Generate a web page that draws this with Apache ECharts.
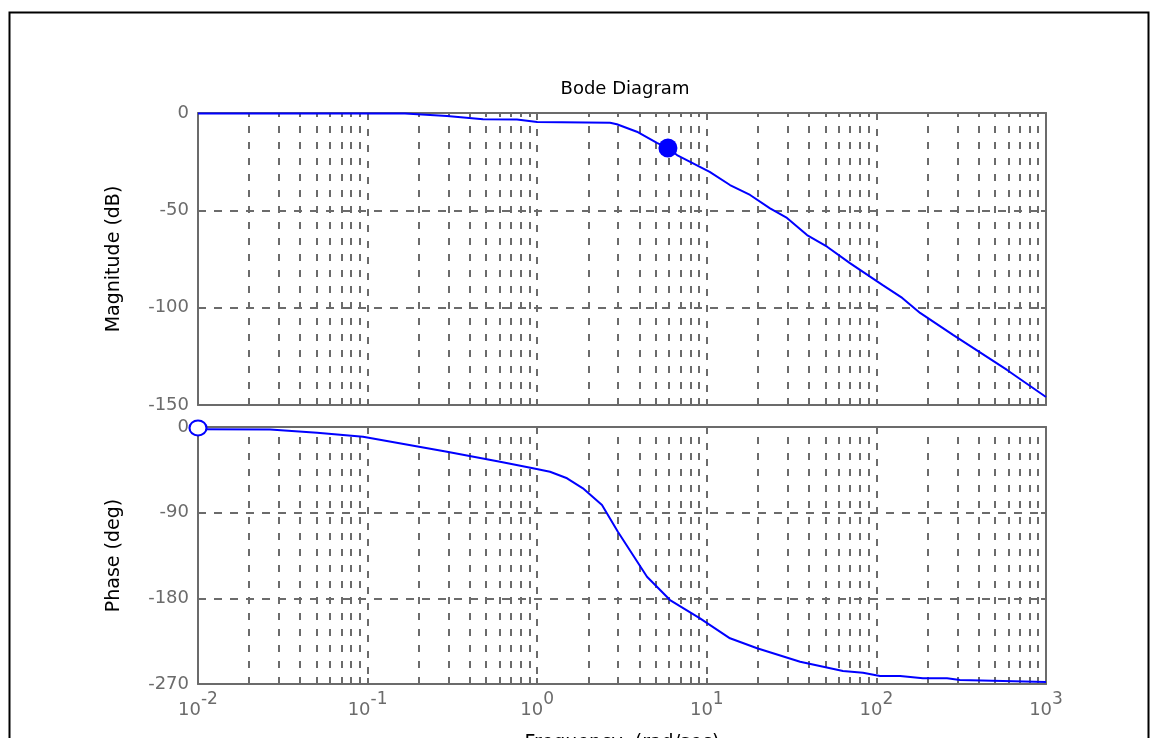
<!DOCTYPE html>
<html>
<head>
<meta charset="utf-8">
<script src="https://cdn.jsdelivr.net/npm/echarts@6/dist/echarts.min.js"></script>
<style>html,body{margin:0;padding:0;background:#fff;}#c{width:1153px;height:738px;}</style>
</head>
<body>
<div id="c"></div>
<script>
// ---- data ----
const magFreq = [0.01, 0.166, 0.294, 0.479, 0.76, 1.0, 2.69, 2.95, 3.87, 5.08, 5.9, 6.67, 10.4, 13.7, 18.0, 23.6, 29.7, 39.0, 51.2, 69.8, 109, 142, 181, 283, 589, 1000];
const magDb   = [-0.2, -0.2, -1.5, -3.2, -3.3, -4.6, -5.0, -5.8, -9.6, -15.3, -18.0, -21.6, -30.2, -37.0, -42.1, -49.0, -53.9, -62.7, -68.7, -77.1, -88.4, -95.0, -102.7, -114.0, -132.0, -145.9];
const phaseFreq = [0.01, 0.0266, 0.0504, 0.094, 0.294, 0.604, 0.944, 1.19, 1.50, 1.86, 2.41, 2.99, 4.44, 6.07, 9.12, 13.7, 19.8, 35.5, 63.5, 83.4, 105, 138, 188, 261, 311, 1000];
const phaseDeg  = [-2.4, -2.6, -6.0, -10.2, -26.0, -36.5, -43.4, -47.0, -53.9, -64.4, -81.9, -110.0, -157.3, -181.8, -201.0, -222.0, -232.5, -246.6, -256.3, -258.1, -261.6, -261.6, -264.0, -264.0, -265.8, -267.8];
const magMarker = [5.9, -18.0];
const phaseMarker = [0.01, -1.0];
const decadeExps = [-2, -1, 0, 1, 2, 3];
const minorMultipliers = [2, 3, 4, 5, 6, 7, 8, 9];
const magTicks = [0, -50, -100, -150];
const phaseTicks = [0, -90, -180, -270];
const titleText = 'Bode Diagram';
const magName = 'Magnitude (dB)';
const phaseName = 'Phase (deg)';
const freqName = 'Frequency  (rad/sec)';

// ---- build ----
const FONT = 'DejaVu Sans, sans-serif';
const GRAY = '#6b6b6b';
const BLUE = '#0000ff';
const xMin = Math.pow(10, decadeExps[0]);
const xMax = Math.pow(10, decadeExps[decadeExps.length - 1]);
const minorLines = [];
decadeExps.slice(0, -1).forEach(e => {
  minorMultipliers.forEach(m => minorLines.push({ xAxis: m * Math.pow(10, e) }));
});
const zip = (a, b) => a.map((v, i) => [v, b[i]]);

function xAxisDef(gridIndex, position, showLabel) {
  return {
    type: 'log', logBase: 10, min: xMin, max: xMax, gridIndex, position,
    axisLine: { show: true, onZero: false, lineStyle: { color: GRAY, width: 2 } },
    axisTick: { show: true, inside: true, length: 6, lineStyle: { color: GRAY, width: 2 } },
    splitLine: { show: position === 'bottom', lineStyle: { color: GRAY, width: 2, type: [7, 9] } },
    axisLabel: {
      show: showLabel, margin: 12, color: GRAY, fontFamily: FONT,
      formatter: v => '{b|10}{s|' + Math.round(Math.log10(v)) + '}',
      rich: {
        b: { fontSize: 18, fontFamily: FONT, color: GRAY, lineHeight: 18, padding: [10, 0, 0, 0] },
        s: { fontSize: 17, fontFamily: FONT, color: GRAY, lineHeight: 18, padding: [0, 0, 10, 0] }
      }
    },
    name: (gridIndex === 1 && position === 'bottom') ? freqName : '',
    nameLocation: 'middle', nameGap: 50,
    nameTextStyle: { color: '#000', fontSize: 19, fontFamily: FONT }
  };
}
function yAxisDef(gridIndex, position, ticks, name) {
  const mn = Math.min(...ticks), mx = Math.max(...ticks);
  return {
    type: 'value', gridIndex, position, min: mn, max: mx, interval: Math.abs(ticks[1] - ticks[0]),
    axisLine: { show: true, onZero: false, lineStyle: { color: GRAY, width: 2 } },
    axisTick: { show: true, inside: true, length: 5, lineStyle: { color: GRAY, width: 2 } },
    splitLine: { show: position === 'left', lineStyle: { color: GRAY, width: 2, type: [8, 8] } },
    axisLabel: { show: position === 'left', margin: 9, color: GRAY, fontSize: 18, fontFamily: FONT },
    name: position === 'left' ? name : '',
    nameLocation: 'middle', nameGap: 74, nameRotate: 90,
    nameTextStyle: { color: '#000', fontSize: 19, fontFamily: FONT }
  };
}
const markLineStyle = {
  symbol: 'none', silent: true, label: { show: false },
  lineStyle: { color: GRAY, width: 2, type: [7, 9] },
  emphasis: { disabled: true },
  data: minorLines
};

const option = {
  animation: false,
  backgroundColor: '#fff',
  title: {
    text: titleText, left: 620, top: 75, textAlign: 'center',
    textStyle: { color: '#000', fontSize: 18, fontWeight: 'normal', fontFamily: FONT }
  },
  grid: [
    { left: 198, top: 113, width: 848, height: 292, containLabel: false, outerBoundsMode: 'none' },
    { left: 198, top: 427, width: 848, height: 257, containLabel: false, outerBoundsMode: 'none' }
  ],
  xAxis: [
    xAxisDef(0, 'bottom', false), xAxisDef(0, 'top', false),
    xAxisDef(1, 'bottom', true), xAxisDef(1, 'top', false)
  ],
  yAxis: [
    yAxisDef(0, 'left', magTicks, magName), yAxisDef(0, 'right', magTicks, ''),
    yAxisDef(1, 'left', phaseTicks, phaseName), yAxisDef(1, 'right', phaseTicks, '')
  ],
  graphic: [{
    type: 'rect', left: 7, top: 10, silent: true,
    shape: { width: 1139, height: 760 },
    style: { fill: 'none', stroke: '#000', lineWidth: 2 }
  }],
  series: [
    { type: 'line', xAxisIndex: 0, yAxisIndex: 0, data: [], z: 1, markLine: markLineStyle },
    { type: 'line', xAxisIndex: 2, yAxisIndex: 2, data: [], z: 1, markLine: markLineStyle },
    { type: 'line', xAxisIndex: 0, yAxisIndex: 0, data: zip(magFreq, magDb), showSymbol: false, z: 10,
      lineStyle: { color: BLUE, width: 2 }, itemStyle: { color: BLUE } },
    { type: 'line', xAxisIndex: 2, yAxisIndex: 2, data: zip(phaseFreq, phaseDeg), showSymbol: false, z: 10,
      lineStyle: { color: BLUE, width: 2 }, itemStyle: { color: BLUE } },
    { type: 'scatter', xAxisIndex: 0, yAxisIndex: 0, data: [magMarker], symbol: 'circle', symbolSize: 19, z: 11,
      itemStyle: { color: BLUE, opacity: 1 } },
    { type: 'scatter', xAxisIndex: 2, yAxisIndex: 2, data: [phaseMarker], symbol: 'emptyCircle', symbolSize: [17, 15], z: 11,
      itemStyle: { color: BLUE, borderColor: BLUE, borderWidth: 2.5, opacity: 1 } }
  ]
};
const chart = echarts.init(document.getElementById('c'), null, { renderer: 'canvas' });
chart.setOption(option);
</script>
</body>
</html>
